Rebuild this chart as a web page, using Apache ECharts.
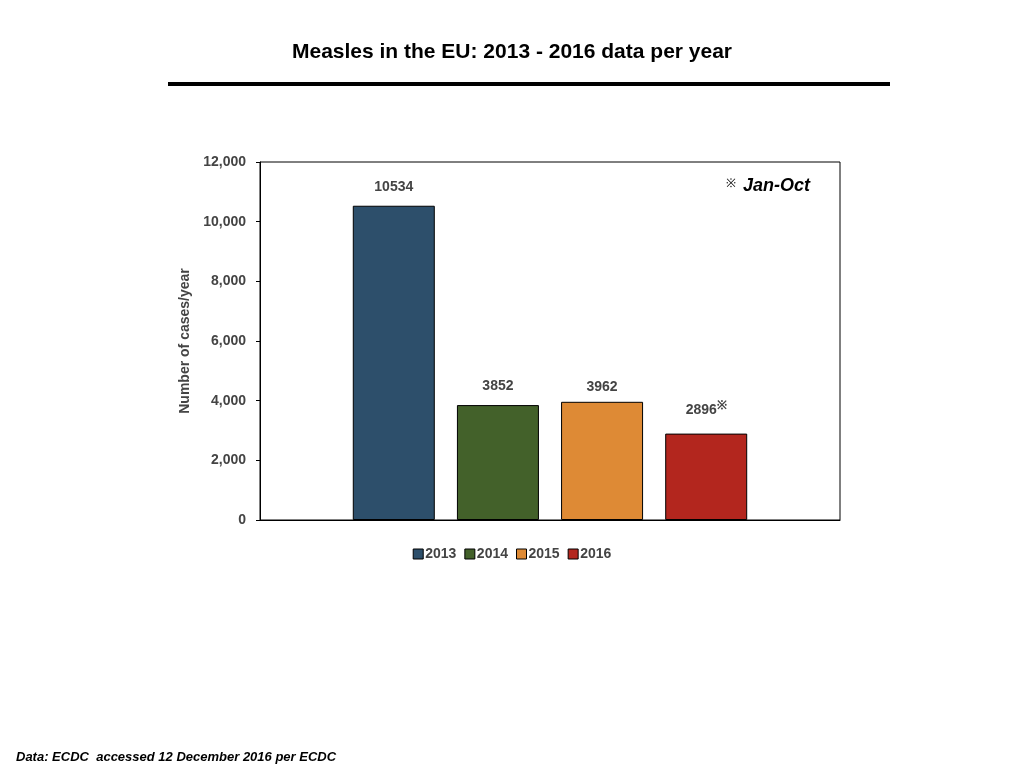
<!DOCTYPE html>
<html><head><meta charset="utf-8">
<script src="https://cdn.jsdelivr.net/npm/echarts@6/dist/echarts.min.js"></script>
<style>html,body{margin:0;padding:0;background:#fff}#c{width:1024px;height:768px}</style>
</head><body><div id="c"></div>
<script>
const years = ['2013', '2014', '2015', '2016'];
const cases = [10534, 3852, 3962, 2896];
const colors = ['#2d4f6b', '#43612a', '#de8a35', '#b3261e'];
const yTicks = [0, 2000, 4000, 6000, 8000, 10000, 12000];

const chart = echarts.init(document.getElementById('c'));
const font = 'Helvetica, Arial, "Liberation Sans", sans-serif';

const series = years.map((y, i) => ({
  name: y,
  type: 'bar',
  data: [cases[i]],
  barWidth: 82,
  barGap: '27%',
  itemStyle: { color: colors[i], borderColor: '#000', borderWidth: 1 },
  label: {
    show: true, position: 'top', distance: i === 2 ? 8 : 12,
    fontFamily: font, fontWeight: 'bold', fontSize: 14, color: '#444',
    formatter: i === 3 ? '{v|{c}}{s|※}' : '{c}',
    rich: { v: { fontFamily: font, fontWeight: 'bold', fontSize: 14, color: '#444' },
            s: { fontSize: 12, color: '#444', verticalAlign: 'top', padding: [0, 0, 10, 0] } }
  }
}));

chart.setOption({
  animation: false,
  title: {
    text: 'Measles in the EU: 2013 - 2016 data per year',
    left: 'center', top: 37,
    textStyle: { fontFamily: font, fontWeight: 'bold', fontSize: 21, color: '#000' }
  },
  grid: { left: 260, right: 184, top: 162, bottom: 248, show: true, borderColor: '#000', borderWidth: 1 },
  legend: {
    bottom: 202, left: 'center', itemWidth: 10, itemHeight: 10, itemGap: 8,
    icon: 'rect',
    textStyle: { fontFamily: font, fontWeight: 'bold', fontSize: 14, color: '#444', padding: [0, 0, 0, -3] },
    itemStyle: { borderColor: '#000', borderWidth: 1 }
  },
  xAxis: { type: 'category', data: [''], axisTick: { show: false }, axisLabel: { show: false },
    axisLine: { lineStyle: { color: '#000' } } },
  yAxis: {
    type: 'value', min: yTicks[0], max: yTicks[yTicks.length - 1], interval: 2000,
    name: 'Number of cases/year', nameLocation: 'middle', nameGap: 62,
    nameTextStyle: { fontFamily: font, fontWeight: 'bold', fontSize: 14, color: '#444' },
    splitLine: { show: false },
    axisLine: { show: true, lineStyle: { color: '#000' } },
    axisTick: { show: true, inside: false, length: 4, lineStyle: { color: '#000' } },
    axisLabel: { fontFamily: font, fontWeight: 'bold', fontSize: 14, color: '#444', margin: 14 }
  },
  series: series,
  graphic: [
    { type: 'rect', shape: { x: 168, y: 82, width: 722, height: 4 }, style: { fill: '#000' } },
    { type: 'text', left: 726, top: 178, style: { text: '※', font: '12px ' + font, fill: '#000' } },
    { type: 'text', left: 743, top: 177, style: { text: 'Jan-Oct', font: 'italic bold 18px ' + font, fill: '#000' } },
    { type: 'text', left: 16, top: 751, style: { text: 'Data: ECDC  accessed 12 December 2016 per ECDC', font: 'italic bold 13px ' + font, fill: '#000' } }
  ]
});
</script></body></html>
